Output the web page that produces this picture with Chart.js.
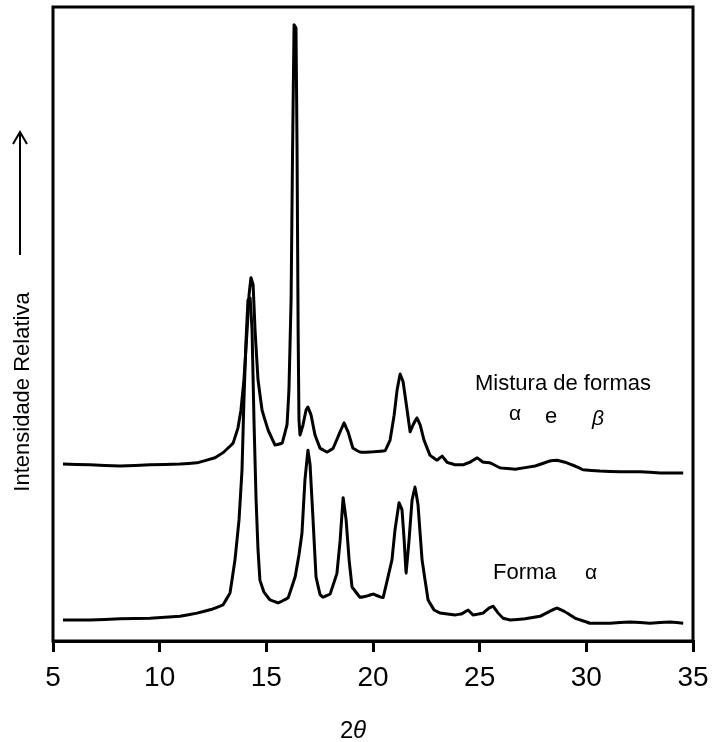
<!DOCTYPE html>
<html>
<head>
<meta charset="utf-8">
<script src="https://cdn.jsdelivr.net/npm/chart.js@4"></script>
<style>
  body { margin: 0; background: #fff; }
</style>
</head>
<body>
<canvas id="xrd" width="712" height="742"></canvas>
<script>
const xTicks = [5, 10, 15, 20, 25, 30, 35];

// Mistura de formas alfa e beta (curva de cima)
const mixTheta = [5.47, 6.73, 8.14, 9.55, 10.95, 11.75, 12.59, 12.97, 13.44, 13.67, 13.81, 13.95, 14.10, 14.19, 14.28, 14.38, 14.47, 14.61, 14.80, 15.08, 15.41, 15.74, 15.97, 16.06, 16.16, 16.23, 16.30, 16.39, 16.44, 16.49, 16.53, 16.58, 16.72, 16.86, 16.95, 17.10, 17.28, 17.52, 17.85, 18.13, 18.36, 18.64, 18.83, 19.06, 19.39, 19.86, 20.57, 20.80, 20.99, 21.13, 21.27, 21.41, 21.60, 21.74, 21.88, 22.06, 22.21, 22.39, 22.67, 23.00, 23.24, 23.47, 23.85, 24.22, 24.55, 24.88, 25.16, 25.49, 25.96, 26.66, 27.60, 28.30, 28.63, 29.00, 29.47, 29.85, 30.64, 31.58, 32.52, 33.46, 34.54];
const mixInt = [27.9, 27.8, 27.6, 27.8, 27.9, 28.1, 28.9, 29.7, 31.2, 33.6, 36.4, 41.2, 49.1, 54.6, 57.3, 56.2, 49.1, 41.2, 36.4, 33.3, 30.9, 31.2, 34.1, 39.6, 53.8, 77.4, 97.2, 96.7, 77.4, 49.1, 34.9, 32.5, 34.1, 36.4, 36.9, 35.6, 32.5, 30.4, 29.8, 30.4, 32.2, 34.4, 33.0, 30.4, 29.8, 29.8, 30.0, 31.7, 35.6, 39.6, 42.1, 40.9, 36.4, 33.0, 34.1, 35.2, 34.1, 31.7, 29.3, 28.5, 29.2, 28.2, 27.8, 27.8, 28.2, 28.9, 28.2, 28.1, 27.3, 27.1, 27.6, 28.4, 28.5, 28.2, 27.6, 27.0, 26.8, 26.7, 26.7, 26.5, 26.5];

// Forma alfa (curva de baixo)
const alphaTheta = [5.47, 6.73, 8.14, 9.55, 10.95, 11.75, 12.45, 12.97, 13.30, 13.53, 13.72, 13.86, 13.95, 14.05, 14.14, 14.24, 14.33, 14.42, 14.52, 14.61, 14.70, 14.89, 15.17, 15.55, 16.02, 16.35, 16.53, 16.67, 16.81, 16.95, 17.05, 17.19, 17.33, 17.52, 17.66, 17.99, 18.31, 18.46, 18.60, 18.74, 18.88, 19.02, 19.39, 19.72, 20.00, 20.47, 20.89, 21.03, 21.22, 21.36, 21.46, 21.55, 21.69, 21.83, 21.97, 22.11, 22.30, 22.58, 22.86, 23.14, 23.85, 24.17, 24.46, 24.69, 25.16, 25.44, 25.63, 25.82, 26.10, 26.43, 27.13, 27.83, 28.30, 28.63, 28.96, 29.47, 30.18, 31.11, 32.05, 32.99, 33.92, 34.54];
const alphaInt = [3.3, 3.3, 3.5, 3.6, 3.9, 4.4, 5.0, 5.7, 7.6, 12.8, 19.1, 27.0, 38.0, 47.5, 53.8, 54.1, 49.1, 34.9, 22.2, 14.4, 9.6, 7.7, 6.5, 6.0, 6.8, 10.1, 13.6, 17.0, 25.4, 30.1, 27.8, 19.1, 10.1, 7.3, 6.9, 7.4, 10.7, 15.9, 22.6, 19.1, 12.8, 8.5, 6.9, 7.1, 7.4, 6.8, 12.8, 17.5, 21.8, 20.7, 15.9, 10.7, 15.9, 22.2, 24.3, 21.5, 12.8, 6.5, 4.9, 4.4, 4.1, 4.3, 4.9, 4.1, 4.4, 5.2, 5.5, 4.6, 3.6, 3.3, 3.5, 3.9, 4.7, 5.2, 4.7, 3.6, 2.8, 2.8, 3.0, 2.8, 3.0, 2.8];

const toPoints = (xs, ys) => xs.map((x, i) => ({ x: x, y: ys[i] }));

const FONT = "'Liberation Sans', Arial, sans-serif";

// moldura, textos e seta
const decor = {
  id: 'decor',
  afterDraw(chart) {
    const ctx = chart.ctx;
    const a = chart.chartArea;
    ctx.save();
    ctx.strokeStyle = '#000';
    ctx.fillStyle = '#000';
    ctx.lineWidth = 3;
    ctx.strokeRect(a.left, a.top, a.right - a.left, a.bottom - a.top);

    ctx.textBaseline = 'middle';
    ctx.textAlign = 'left';
    ctx.font = '22px ' + FONT;
    ctx.fillText('Mistura de formas', 475, 384);
    ctx.fillText('Forma', 493, 573);
    ctx.textAlign = 'center';
    ctx.fillText('e', 551, 417);
    ctx.font = '21px ' + FONT;
    ctx.fillText('α', 515, 414);
    ctx.fillText('α', 591, 573);
    ctx.font = 'italic 21px ' + FONT;
    ctx.fillText('β', 598, 419);

    // titulo do eixo x
    ctx.font = '24px ' + FONT;
    ctx.textAlign = 'left';
    ctx.fillText('2', 340, 731);
    ctx.font = 'italic 24px ' + FONT;
    ctx.fillText('θ', 353, 731);

    // titulo do eixo y
    ctx.save();
    ctx.translate(23, 392);
    ctx.rotate(-Math.PI / 2);
    ctx.textAlign = 'center';
    ctx.font = '22px ' + FONT;
    ctx.fillText('Intensidade Relativa', 0, 0);
    ctx.restore();

    ctx.lineWidth = 2;
    ctx.beginPath();
    ctx.moveTo(20, 255);
    ctx.lineTo(20, 133);
    ctx.moveTo(13, 144);
    ctx.lineTo(20, 132);
    ctx.lineTo(27, 144);
    ctx.stroke();
    ctx.restore();
  }
};

new Chart(document.getElementById('xrd'), {
  type: 'line',
  data: {
    datasets: [{
      label: 'Mistura de formas α e β',
      data: toPoints(mixTheta, mixInt),
      borderColor: '#000',
      borderWidth: 3,
      borderJoinStyle: 'round',
      pointRadius: 0,
      tension: 0.02
    }, {
      label: 'Forma α',
      data: toPoints(alphaTheta, alphaInt),
      borderColor: '#000',
      borderWidth: 3,
      borderJoinStyle: 'round',
      pointRadius: 0,
      tension: 0.02
    }]
  },
  options: {
    responsive: false,
    animation: false,
    layout: { padding: { left: 53, right: 19, top: 7, bottom: 0 } },
    plugins: {
      legend: { display: false },
      tooltip: { enabled: false }
    },
    scales: {
      x: {
        type: 'linear',
        min: xTicks[0],
        max: xTicks[xTicks.length - 1],
        afterBuildTicks: s => { s.ticks = xTicks.map(v => ({ value: v })); },
        afterFit: s => { s.height = 101; s.paddingLeft = 0; s.paddingRight = 0; },
        border: { display: true, color: '#000', width: 3 },
        grid: { drawOnChartArea: false, drawTicks: true, tickLength: 11, color: '#000', lineWidth: 3 },
        ticks: { color: '#000', padding: 9, font: { family: FONT, size: 28 }, maxRotation: 0 }
      },
      y: {
        display: false,
        min: 0,
        max: 100
      }
    }
  },
  plugins: [decor]
});
</script>
</body>
</html>
